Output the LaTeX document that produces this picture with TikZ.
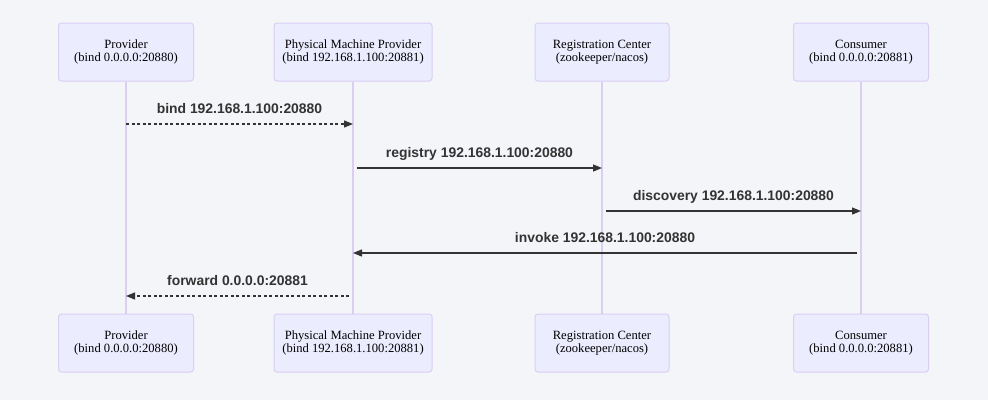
\documentclass[tikz,border=0pt]{standalone}
\usepackage{fontspec}
\setmainfont{Liberation Serif}
\newfontfamily\msgfont{Liberation Sans}
\usetikzlibrary{arrows.meta}

\begin{document}
\begin{tikzpicture}[x=1pt,y=1pt,
    actor/.style={draw=lifeline, fill=actorfill, line width=1pt, rounded corners=3pt,
        minimum height=58pt, align=center, inner sep=0pt,
        font=\fontsize{12.6}{13}\selectfont},
    life/.style={draw=lifeline, line width=1.5pt},
    msg/.style={draw=msgline, line width=1.2pt, -{Triangle[length=9pt,width=7pt]}},
    reply/.style={msg, dash pattern=on 3pt off 2.5pt},
    lbl/.style={text=msgline, font=\msgfont\bfseries\fontsize{13.9}{15}\selectfont,
        anchor=base, yshift=11pt, inner sep=0pt}]
    \definecolor{bgcol}{RGB}{243,245,248}
    \definecolor{actorfill}{RGB}{236,236,255}
    \definecolor{lifeline}{RGB}{218,206,243}
    \definecolor{msgline}{RGB}{51,51,51}

    \fill[bgcol] (0,0) rectangle (988,-400);
    \useasboundingbox (0,0) rectangle (988,-400);

    \node[actor, minimum width=135pt] (provTop) at (126,-52) {Provider\\(bind 0.0.0.0:20880)};
    \node[actor, minimum width=158pt] (physTop) at (353,-52) {Physical Machine Provider\\(bind 192.168.1.100:20881)};
    \node[actor, minimum width=134pt] (regTop) at (602,-52) {Registration Center\\(zookeeper/nacos)};
    \node[actor, minimum width=135pt] (consTop) at (861,-52) {Consumer\\(bind 0.0.0.0:20881)};

    \node[actor, minimum width=135pt] (provBot) at (126,-343) {Provider\\(bind 0.0.0.0:20880)};
    \node[actor, minimum width=158pt] (physBot) at (353,-343) {Physical Machine Provider\\(bind 192.168.1.100:20881)};
    \node[actor, minimum width=134pt] (regBot) at (602,-343) {Registration Center\\(zookeeper/nacos)};
    \node[actor, minimum width=135pt] (consBot) at (861,-343) {Consumer\\(bind 0.0.0.0:20881)};

    \foreach \a in {prov,phys,reg,cons}
        \draw[life] (\a Top) -- (\a Bot);

    \draw[reply] (provTop.south |- 0,-124) -- node[lbl, midway] {bind 192.168.1.100:20880} (physTop.south |- 0,-124);
    \draw[msg] ([xshift=4pt]physTop.south |- 0,-168) -- node[lbl, midway] {registry 192.168.1.100:20880} (regTop.south |- 0,-168);
    \draw[msg] ([xshift=4pt]regTop.south |- 0,-211) -- node[lbl, midway] {discovery 192.168.1.100:20880} (consTop.south |- 0,-211);
    \draw[msg] ([xshift=-4pt]consTop.south |- 0,-253) -- node[lbl, midway] {invoke 192.168.1.100:20880} (physTop.south |- 0,-253);
    \draw[reply] ([xshift=-4pt]physTop.south |- 0,-296) -- node[lbl, midway] {forward 0.0.0.0:20881} (provTop.south |- 0,-296);
\end{tikzpicture}
\end{document}
